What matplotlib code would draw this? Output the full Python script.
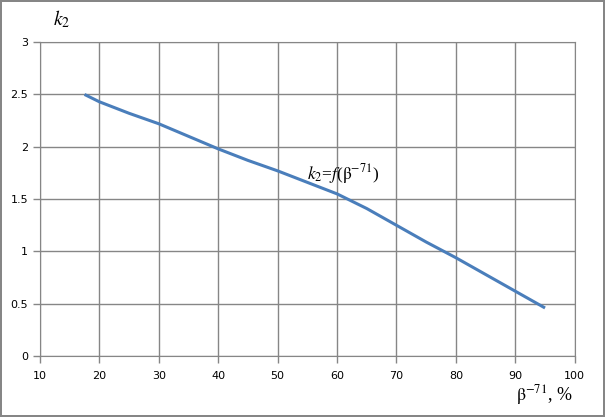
import matplotlib
matplotlib.use("Agg")
import matplotlib.pyplot as plt

# values
beta = [17.5, 20, 25, 30, 35, 40, 45, 50, 55, 60, 65, 70, 75, 80, 85, 90, 95]
k2 = [2.50, 2.43, 2.32, 2.22, 2.10, 1.98, 1.87, 1.77, 1.66, 1.55, 1.41, 1.25, 1.09, 0.94, 0.78, 0.62, 0.46]

x_ticks = [10, 20, 30, 40, 50, 60, 70, 80, 90, 100]
y_ticks = [0, 0.5, 1, 1.5, 2, 2.5, 3]
y_labels = ['0', '0.5', '1', '1.5', '2', '2.5', '3']

grid_col = '#868686'

fig = plt.figure(figsize=(6.05, 4.17), dpi=100)
fig.patch.set_edgecolor(grid_col)
fig.patch.set_linewidth(1.5)
ax = fig.add_axes([0.066, 0.146, 0.884, 0.753])

ax.plot(beta, k2, color='#4A7EBB', lw=2.2, solid_capstyle='butt')

ax.set_xlim(10, 100)
ax.set_ylim(0, 3)
ax.set_xticks(x_ticks)
ax.set_yticks(y_ticks)
ax.set_yticklabels(y_labels)
ax.grid(True, color=grid_col, lw=1)
ax.set_axisbelow(True)
for s in ax.spines.values():
    s.set_color(grid_col)
ax.tick_params(colors=grid_col, labelcolor='black', labelsize=8, length=5, width=1)
ax.tick_params(axis='x', pad=6)

serif = 'Liberation Serif'
fig.text(0.087, 0.955, r'$k_2$', fontsize=14, family=serif, ha='left', va='center',
         math_fontfamily='stix')
fig.text(0.9, 0.052, r'$\mathrm{\beta}^{\mathrm{-71}}$, %', fontsize=13, family=serif,
         ha='center', va='center', math_fontfamily='stix')
ax.text(61, 1.74, r'$k_2$=$f$($\mathrm{\beta}^{\mathrm{-71}}$)', fontsize=12.5, family=serif,
        ha='center', va='center', math_fontfamily='stix')

fig.savefig('out.png', dpi=100, edgecolor=fig.get_edgecolor())
